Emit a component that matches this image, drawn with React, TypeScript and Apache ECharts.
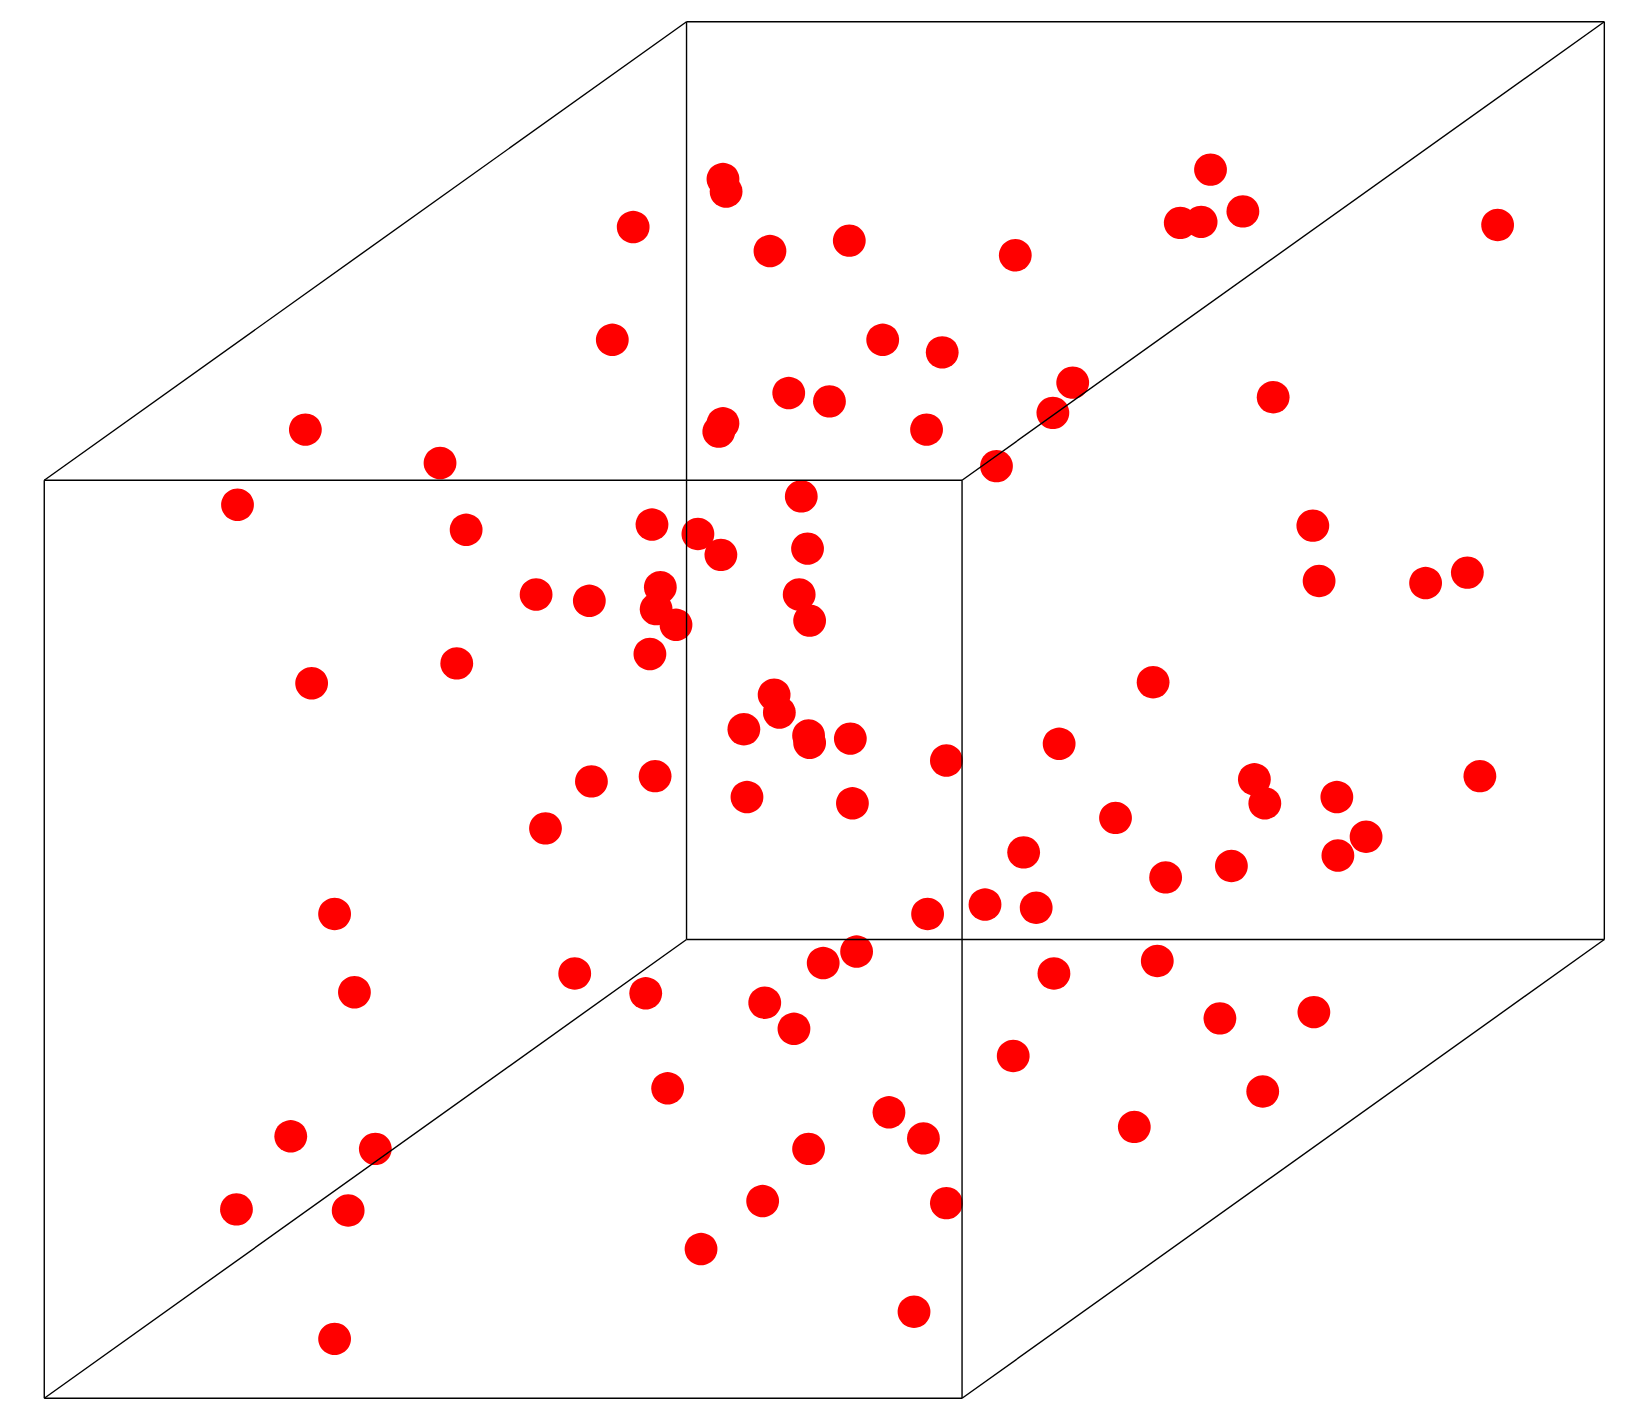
import React, { useEffect, useRef } from "react";
import * as echarts from "echarts";

const pointX = [692,695,606,737,813,972,1159,1130,1150,1190,1434,586,845,902,1027,1008,1219,755,794,692,688,887,954,292,421,227,446,624,668,690,767,773,1257,1263,1365,1405,513,564,632,628,647,622,765,775,437,298,1104,741,746,712,774,775,814,906,1014,566,627,715,816,522,1201,1211,1280,1417,1068,1308,1281,980,1116,1179,320,888,943,992,820,788,1009,1108,550,339,618,732,760,1168,1258,970,639,1209,851,884,1086,278,359,774,226,333,730,906,671,875,320];
const pointY = [171,183,217,240,230,244,162,213,212,202,215,325,325,337,366,395,380,376,384,405,413,411,446,411,443,483,507,502,511,531,475,525,503,556,558,548,569,575,562,583,598,626,569,594,635,654,653,665,682,698,704,711,707,728,712,748,743,763,769,793,746,769,763,743,783,801,819,816,840,829,875,875,866,869,911,922,932,920,932,950,951,960,985,975,969,1011,1042,1045,1065,1090,1079,1088,1100,1100,1158,1159,1150,1152,1196,1256,1282];

const x0 = 42.4, x1 = 921.5, x2 = 657.6, x3 = 1536.7;
const yTop = 20.8, yMid1 = 460, yMid2 = 900, yBottom = 1339.4;
const cubeEdges: [number, number, number, number][] = [
  [x0, yMid1, x1, yMid1], [x1, yMid1, x1, yBottom], [x1, yBottom, x0, yBottom], [x0, yBottom, x0, yMid1],
  [x2, yTop, x3, yTop], [x3, yTop, x3, yMid2], [x3, yMid2, x2, yMid2], [x2, yMid2, x2, yTop],
  [x0, yMid1, x2, yTop], [x1, yMid1, x3, yTop], [x1, yBottom, x3, yMid2], [x0, yBottom, x2, yMid2],
];

export default function App() {
  const ref = useRef<HTMLDivElement>(null);
  useEffect(() => {
    const chart = echarts.init(ref.current!, undefined, { renderer: "svg" });
    chart.setOption({
      animation: false,
      backgroundColor: "#ffffff",
      grid: { left: 0, right: 0, top: 0, bottom: 0 },
      xAxis: [
        { type: "value", min: 0, max: 1568, show: false },
        { type: "value", min: -0.5, max: 1567.5, show: false },
      ],
      yAxis: [
        { type: "value", min: 0, max: 1343, inverse: true, show: false },
        { type: "value", min: -0.5, max: 1342.5, inverse: true, show: false },
      ],
      series: [
        {
          type: "scatter",
          xAxisIndex: 1,
          yAxisIndex: 1,
          data: pointX.map((x, i) => [x, pointY[i]]),
          symbol: "circle",
          symbolSize: [32.8, 32.4],
          itemStyle: { color: "#ff0000", opacity: 1 },
          z: 2,
        },
        ...cubeEdges.map((e) => ({
          type: "line",
          data: [[e[0], e[1]], [e[2], e[3]]],
          showSymbol: false,
          lineStyle: { color: "#000000", width: 1.4 },
          silent: true,
          z: 3,
        })),
      ],
    });
    return () => chart.dispose();
  }, []);
  return <div ref={ref} style={{ position: "fixed", left: 0, top: 0, width: 1637, height: 1402 }} />;
}
